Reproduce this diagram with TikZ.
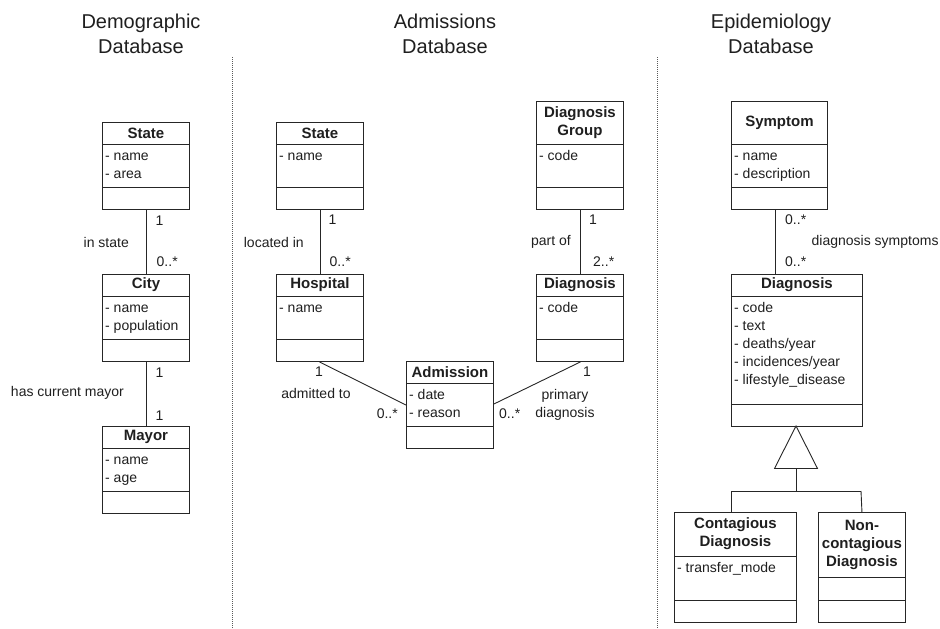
\documentclass[tikz,border=0pt]{standalone}
\usepackage{fontspec}
\setmainfont{Liberation Sans}
\begin{document}
\tikzset{
  cls/.style={draw=black!85, line width=0.9pt, fill=white, inner sep=0pt, anchor=north west},
  sep/.style={draw=black!85, line width=0.9pt},
  assoc/.style={draw=black!85, line width=0.9pt},
  txt/.style={inner sep=0pt, text=black!88, font=\fontsize{14}{18}\selectfont},
  hdr/.style={txt, align=center, font=\fontsize{15}{18}\selectfont\bfseries},
  attrs/.style={txt, align=left, anchor=north west},
  lbl/.style={txt},
  dbtitle/.style={inner sep=0pt, text=black!88, align=center, font=\fontsize{20}{25}\selectfont},
  divider/.style={draw=black!65, line width=0.8pt, dash pattern=on 1pt off 1pt},
  inherit/.style={draw=black!85, line width=0.9pt, fill=white}
}
% #1 name, #2 left, #3 top, #4 width, #5 header height, #6 attribute height,
% #7 class name, #8 attribute lines; the operations part is 22 high
\newcommand{\umlclass}[8]{%
  \node[cls, minimum width=#4, minimum height=#5+#6+22] (#1) at (#2,#3) {};
  \draw[sep] ([yshift={-#5*1pt}]#1.north west) -- ([yshift={-#5*1pt}]#1.north east);
  \draw[sep] ([yshift={-(#5+#6)*1pt}]#1.north west) -- ([yshift={-(#5+#6)*1pt}]#1.north east);
  \node[hdr] (#1-name) at ([yshift={-#5/2*1pt}]#1.north) {#7};
  \node[attrs] (#1-attr) at ([xshift=3pt, yshift={-(#5+4)*1pt}]#1.north west) {\strut#8};
}
\begin{tikzpicture}[x=1pt, y=-1pt]
\useasboundingbox (0,0) rectangle (940,629);

% column headings and dividers
\node[dbtitle] (tdemo) at (141,34) {Demographic\\Database};
\node[dbtitle] (tadm) at (445,34) {Admissions\\Database};
\node[dbtitle] (tepi) at (771,34) {Epidemiology\\Database};
\coordinate (d1top) at (232.5,57);
\coordinate (d1bot) at (232.5,629);
\coordinate (d2top) at (657.5,57);
\coordinate (d2bot) at (657.5,629);
\draw[divider] (d1top) -- (d1bot);
\draw[divider] (d2top) -- (d2bot);

% demographic database
\umlclass{dstate}{102}{122}{87}{22}{43}{State}{- name\\- area}
\umlclass{dcity}{102}{274}{87}{22}{43}{City}{- name\\- population}
\umlclass{dmayor}{102}{426}{87}{22}{43}{Mayor}{- name\\- age}
\draw[assoc] (dstate.south) -- (dcity.north);
\draw[assoc] (dcity.south) -- (dmayor.north);
\node[lbl, anchor=west] (l1) at (155.5,221) {1};
\node[lbl, anchor=east] (l2) at (129,242) {in state};
\node[lbl, anchor=west] (l3) at (156.5,262) {0..*};
\node[lbl, anchor=west] (l4) at (155.5,373) {1};
\node[lbl, anchor=east] (l5) at (124,393) {has current mayor};
\node[lbl, anchor=west] (l6) at (155.5,416) {1};

% admissions database
\umlclass{astate}{276}{122}{87}{22}{43}{State}{- name}
\umlclass{hosp}{276}{274}{87}{22}{43}{Hospital}{- name}
\umlclass{dgroup}{536}{101}{87}{43}{43}{Diagnosis\\Group}{- code}
\umlclass{adiag}{536}{274}{87}{22}{43}{Diagnosis}{- code}
\umlclass{admis}{406}{361}{87}{22}{43}{Admission}{- date\\- reason}
\draw[assoc] (astate.south) -- (hosp.north);
\draw[assoc] (dgroup.south) -- (adiag.north);
\draw[assoc] ([xshift=-0.5pt]hosp.south) -- ([yshift=-44pt]admis.north west);
\draw[assoc] ([xshift=0.5pt]adiag.south) -- ([yshift=-43pt]admis.north east);
\node[lbl, anchor=west] (m1) at (328.5,220) {1};
\node[lbl, anchor=east] (m2) at (304,242) {located in};
\node[lbl, anchor=west] (m3) at (329.5,262) {0..*};
\node[lbl, anchor=west] (m4) at (589,220) {1};
\node[lbl, anchor=east] (m5) at (571,242) {part of};
\node[lbl, anchor=west] (m6) at (593,262) {2..*};
\node[lbl] (m7) at (319,372) {1};
\node[lbl] (m8) at (316,393) {admitted to};
\node[lbl, anchor=east] (m9) at (398,414) {0..*};
\node[lbl, anchor=west] (m10) at (499,414) {0..*};
\node[lbl] (m11) at (587,372) {1};
\node[lbl, align=center] (m12) at (565,405) {primary\\diagnosis};

% epidemiology database
\umlclass{symp}{731}{101}{96}{43}{43}{Symptom}{- name\\- description}
\umlclass{ediag}{731}{274}{131}{22}{108}{Diagnosis}{- code\\- text\\- deaths/year\\- incidences/year\\- lifestyle\_disease}
\umlclass{contag}{674}{512}{122}{44}{44}{Contagious\\Diagnosis}{- transfer\_mode}
\umlclass{noncontag}{818}{512}{87}{65}{23}{Non-\\contagious\\Diagnosis}{}
\draw[assoc] ([xshift=-4.5pt]symp.south) -- ([xshift={(774.5-796.5)*1pt}]ediag.north);
\node[lbl, anchor=west] (e1) at (785,220) {0..*};
\node[lbl, anchor=west] (e2) at (811.5,242) {diagnosis symptoms};
\node[lbl, anchor=west] (e3) at (785,262) {0..*};

% generalisation: hollow triangle under Diagnosis, tree to the subclasses
\coordinate (apex) at (796,426);
\coordinate (tril) at (774.5,468.5);
\coordinate (trir) at (817.5,468.5);
\coordinate (tribase) at (796,468.5);
\coordinate (fork) at (796,491);
\coordinate (forkl) at (731,491);
\coordinate (forkr) at (861,491);
\draw[inherit] (apex) -- (tril) -- (trir) -- cycle;
\draw[assoc] (tribase) -- (fork);
\draw[assoc] (forkl) -- (forkr);
\draw[assoc] (forkl) -- (forkl |- contag.north);
\draw[assoc] (forkr) -- (noncontag.north);
\end{tikzpicture}
\end{document}
